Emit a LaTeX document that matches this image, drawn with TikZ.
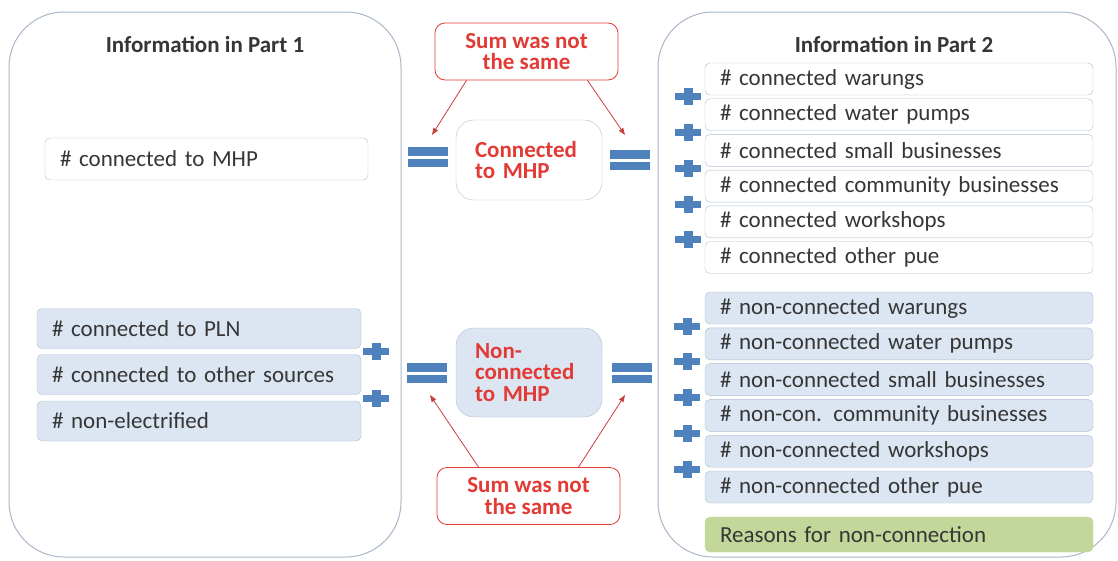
\documentclass[tikz,border=0pt]{standalone}
\usepackage{fontspec}
\setmainfont{Carlito}
\usetikzlibrary{arrows.meta}
\definecolor{panelline}{HTML}{A9B6C8}
\definecolor{itemline}{HTML}{B0BDD0}
\definecolor{itemfill}{HTML}{DCE6F2}
\definecolor{greenfill}{HTML}{C4D79B}
\definecolor{textgray}{HTML}{363636}
\definecolor{alertred}{HTML}{E23B36}
\definecolor{arrowred}{HTML}{C8403C}
\definecolor{signblue}{HTML}{4F81BD}
\begin{document}
\begin{tikzpicture}[x=1pt, y=-1pt,
    panel/.style={draw=panelline, line width=1pt, rounded corners=55pt},
    title/.style={font=\fontsize{23}{25}\selectfont\bfseries, text=textgray},
    item/.style={draw=itemline, fill=white, rounded corners=5pt, align=left, inner xsep=15pt, inner ysep=0pt, font=\fontsize{23}{25}\selectfont, text=textgray},
    leftbox/.style={item, text width=294pt, minimum height=40pt},
    rightbox/.style={item, text width=358pt, minimum height=32pt},
    midbox/.style={draw=itemline, fill=white, rounded corners=18pt, align=left, text width=108pt, inner xsep=19pt, minimum width=146pt, font=\fontsize{23}{21.5}\selectfont\bfseries, text=alertred},
    sumbox/.style={draw=alertred, line width=0.8pt, fill=white, rounded corners=10pt, align=center, minimum width=183pt, minimum height=57pt, font=\fontsize{23}{21.5}\selectfont\bfseries, text=alertred},
    hint/.style={draw=arrowred, line width=0.8pt, -{Triangle[length=7pt,width=5pt]}},
    plussign/.pic={\fill[signblue] (-13,-3.5) rectangle (13,3.5);
                   \fill[signblue] (-4.5,-8.5) rectangle (4.5,8.5);},
    equalsign/.pic={\fill[signblue] (-20,-10) rectangle (20,-1.5);
                    \fill[signblue] (-20,1.5) rectangle (20,10);}]
    \useasboundingbox (0,0) rectangle (1118,560);

    \draw[panel] (9,12) rectangle (401,557);
    \draw[panel] (658,12) rectangle (1116,557);
    \node[title] (part1) at (205,44) {Information in Part 1};
    \node[title] (part2) at (894,44) {Information in Part 2};

    \node[leftbox, text width=293pt, minimum height=42pt] (mhp) at (206.5,159) {\# connected to MHP};
    \node[leftbox, fill=itemfill] (pln) at (199,328.5) {\# connected to PLN};
    \node[leftbox, fill=itemfill] (other) at (199,374.5) {\# connected to other sources};
    \node[leftbox, fill=itemfill] (nonel) at (199,421) {\# non-electrified};
    \pic at (376,351) {plussign};
    \pic at (376,398) {plussign};

    \node[midbox, minimum height=80pt] (conn) at (529,160) {Connected\\to MHP};
    \node[midbox, minimum height=89pt, fill=itemfill] (nonconn) at (529,372.5) {Non-\\connected\\to MHP};
    \pic at (428,157) {equalsign};
    \pic at (630,160) {equalsign};
    \pic at (427,373) {equalsign};
    \pic at (632,373) {equalsign};

    \node[rightbox] (cw) at (899,79) {\# connected warungs};
    \node[rightbox] (cp) at (899,114.7) {\# connected water pumps};
    \node[rightbox] (cs) at (899,150.4) {\# connected small businesses};
    \node[rightbox] (cc) at (899,186.1) {\# connected community businesses};
    \node[rightbox] (ck) at (899,221.8) {\# connected workshops};
    \node[rightbox] (co) at (899,257.5) {\# connected other pue};
    \pic at (688,96.9) {plussign};
    \pic at (688,132.6) {plussign};
    \pic at (688,168.3) {plussign};
    \pic at (688,204) {plussign};
    \pic at (688,239.7) {plussign};

    \node[rightbox, fill=itemfill] (nw) at (899,308) {\# non-connected warungs};
    \node[rightbox, fill=itemfill] (np) at (899,343.8) {\# non-connected water pumps};
    \node[rightbox, fill=itemfill] (ns) at (899,379.6) {\# non-connected small businesses};
    \node[rightbox, fill=itemfill] (nc) at (899,415.4) {\# non-con. community businesses};
    \node[rightbox, fill=itemfill] (nk) at (899,451.2) {\# non-connected workshops};
    \node[rightbox, fill=itemfill] (no) at (899,487) {\# non-connected other pue};
    \pic at (687,326) {plussign};
    \pic at (687,361.7) {plussign};
    \pic at (687,397.5) {plussign};
    \pic at (687,433.3) {plussign};
    \pic at (687,469) {plussign};
    \node[rightbox, fill=greenfill, draw=greenfill, minimum height=35pt] (reasons) at (899,534.5) {Reasons for non-connection};

    \node[sumbox] (sumtop) at (526.5,51.5) {Sum was not\\the same};
    \node[sumbox] (sumbot) at (528.5,496) {Sum was not\\the same};
    \coordinate (eqtl) at (432,135);
    \coordinate (eqtr) at (625,135);
    \coordinate (eqbl) at (430,395);
    \coordinate (eqbr) at (625,395);
    \draw[hint] ([xshift=-60pt]sumtop.south) -- (eqtl);
    \draw[hint] ([xshift=61pt]sumtop.south) -- (eqtr);
    \draw[hint] ([xshift=-50pt]sumbot.north) -- (eqbl);
    \draw[hint] ([xshift=50pt]sumbot.north) -- (eqbr);
\end{tikzpicture}
\end{document}
